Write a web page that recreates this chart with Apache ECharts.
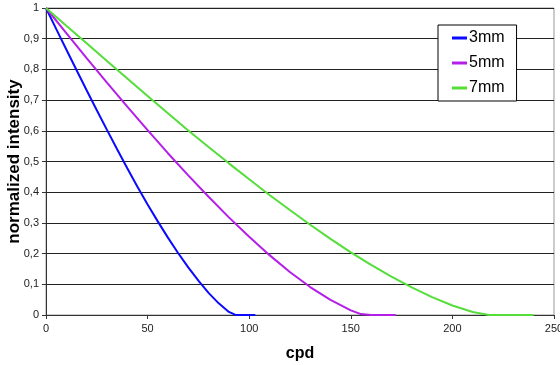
<!DOCTYPE html>
<html>
<head>
<meta charset="utf-8">
<script src="https://cdn.jsdelivr.net/npm/echarts@6/dist/echarts.min.js"></script>
<style>
  html, body { margin: 0; padding: 0; background: #fff; }
  #chart { width: 560px; height: 365px; }
</style>
</head>
<body>
<div id="chart"></div>
<script>
// Spatial frequency (cpd) vs. normalized intensity for three pupil sizes
const cpd3 = [0, 5, 10, 15, 20, 25, 30, 35, 40, 45, 50, 55, 60, 65, 70, 75, 80, 85, 90, 93, 95, 100, 103];
const val3 = [1.00, 0.932, 0.865, 0.798, 0.732, 0.667, 0.603, 0.540, 0.478, 0.418, 0.360, 0.305, 0.252, 0.202, 0.155, 0.112, 0.072, 0.038, 0.010, 0.001, 0, 0, 0];

const cpd5 = [0, 10, 20, 30, 40, 50, 60, 70, 80, 90, 100, 110, 120, 130, 140, 150, 155, 160, 170, 172];
const val5 = [1.00, 0.918, 0.837, 0.757, 0.679, 0.602, 0.527, 0.455, 0.385, 0.318, 0.255, 0.195, 0.140, 0.091, 0.049, 0.015, 0.003, 0, 0, 0];

const cpd7 = [0, 10, 20, 30, 40, 50, 60, 70, 80, 90, 100, 110, 120, 130, 140, 150, 160, 170, 180, 190, 200, 210, 218, 230, 240];
const val7 = [1.00, 0.942, 0.885, 0.827, 0.770, 0.713, 0.657, 0.601, 0.547, 0.494, 0.442, 0.391, 0.342, 0.294, 0.248, 0.204, 0.163, 0.125, 0.090, 0.058, 0.031, 0.010, 0, 0, 0];

const seriesNames = ['3mm', '5mm', '7mm'];
const seriesColors = ['#0a0aff', '#b41ee8', '#55dd3a'];

const pairs = (xs, ys) => xs.map((x, i) => [x, ys[i]]);
const seriesData = [pairs(cpd3, val3), pairs(cpd5, val5), pairs(cpd7, val7)];

const chart = echarts.init(document.getElementById('chart'), null, { renderer: 'canvas' });

chart.setOption({
  animation: false,
  backgroundColor: '#fff',
  grid: {
    left: 46, right: 6, top: 8, bottom: 50,
    outerBoundsMode: 'none',
    containLabel: false,
    show: true, borderColor: '#999', borderWidth: 1, backgroundColor: 'transparent'
  },
  legend: {
    orient: 'vertical',
    left: 438, top: 25,
    padding: [5, 12, 5, 14],
    itemGap: 9,
    itemWidth: 15,
    itemHeight: 3,
    icon: 'rect',
    borderColor: '#000',
    borderWidth: 1,
    backgroundColor: '#fff',
    textStyle: { fontFamily: 'Liberation Sans, Arial', fontSize: 16, color: '#000', padding: [0, 0, 0, -3] },
    data: seriesNames
  },
  xAxis: {
    type: 'value',
    min: 0, max: 250, interval: 50,
    name: 'cpd',
    nameLocation: 'middle',
    nameGap: 31,
    nameMoveOverlap: false,
    nameTextStyle: { fontFamily: 'Liberation Sans, Arial', fontSize: 16, fontWeight: 'bold', color: '#000' },
    axisLine: { show: true, lineStyle: { color: '#333', width: 1 } },
    axisTick: { show: true, length: 4, lineStyle: { color: '#333' } },
    axisLabel: { fontFamily: 'Liberation Sans, Arial', fontSize: 11, color: '#222', margin: 8 },
    splitLine: { show: false }
  },
  yAxis: {
    type: 'value',
    min: 0, max: 1, interval: 0.1,
    name: 'normalized intensity',
    nameLocation: 'middle',
    nameRotate: 90,
    nameGap: 23,
    nameMoveOverlap: false,
    nameTextStyle: { fontFamily: 'Liberation Sans, Arial', fontSize: 17, fontWeight: 'bold', color: '#000' },
    axisLine: { show: true, lineStyle: { color: '#333', width: 1 } },
    axisTick: { show: true, length: 4, lineStyle: { color: '#333' } },
    axisLabel: {
      fontFamily: 'Liberation Sans, Arial', fontSize: 11, color: '#222', margin: 7,
      formatter: v => {
        const r = Math.round(v * 10) / 10;
        return (r === 0 || r === 1) ? String(r) : r.toFixed(1).replace('.', ',');
      }
    },
    splitLine: { show: true, lineStyle: { color: '#222', width: 1 } }
  },
  series: seriesNames.map((name, i) => ({
    name,
    type: 'line',
    data: seriesData[i],
    smooth: false,
    showSymbol: false,
    symbol: 'none',
    color: seriesColors[i],
    lineStyle: { width: 2, color: seriesColors[i] }
  }))
});
</script>
</body>
</html>
